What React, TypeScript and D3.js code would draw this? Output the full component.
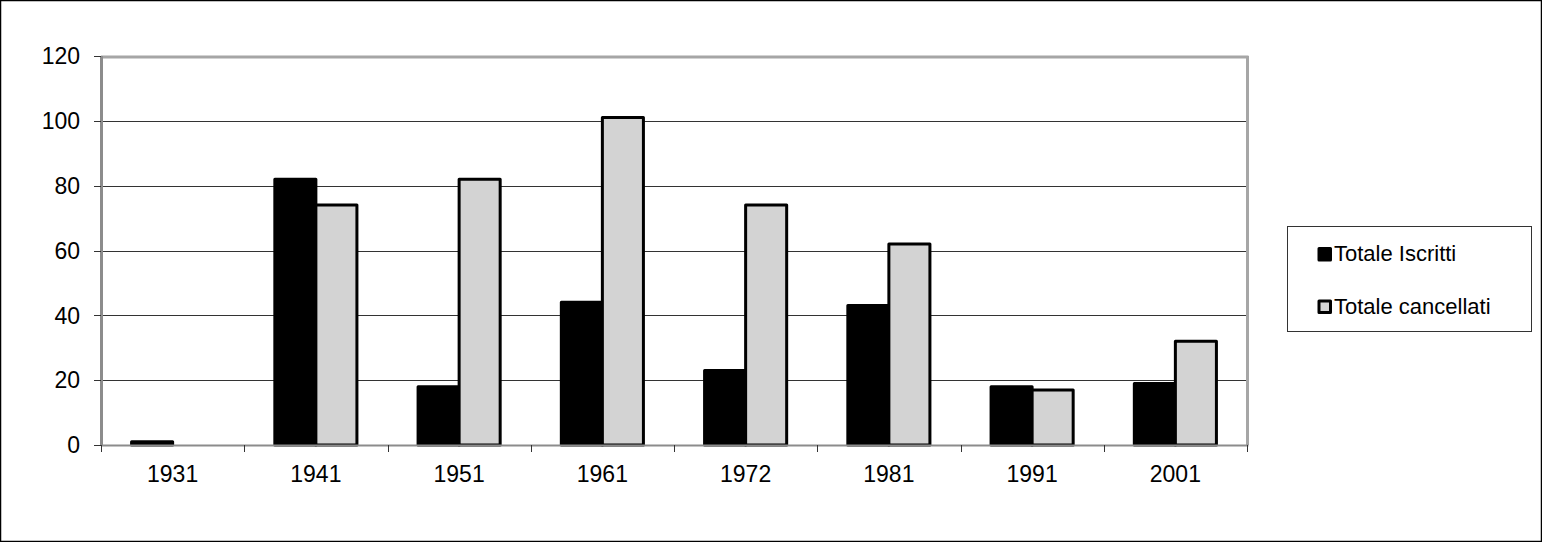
import React from "react";
import * as d3 from "d3";

const categories = ["1931", "1941", "1951", "1961", "1972", "1981", "1991", "2001"];
const seriesNames = ["Totale Iscritti", "Totale cancellati"];
const iscritti = [1, 82, 18, 44, 23, 43, 18, 19];
const cancellati = [0, 74, 82, 101, 74, 62, 17, 32];
const yTicks = [0, 20, 40, 60, 80, 100, 120];
const seriesColors = ["#000000", "#d3d3d3"];

const W = 1542;
const H = 542;
const plot = { left: 101, right: 1247, top: 56, bottom: 445 };
const FONT = "'Liberation Sans', Arial, sans-serif";

export default function App() {
  const x = d3.scaleBand<string>().domain(categories).range([plot.left, plot.right]).padding(0);
  const xs = d3
    .scaleBand<string>()
    .domain(seriesNames)
    .range([0, x.bandwidth()])
    .paddingInner(0)
    .paddingOuter(0.745);
  const y = d3.scaleLinear().domain([0, 120]).range([plot.bottom, plot.top]);
  const seriesValues = [iscritti, cancellati];

  const tickEdges = categories.map((c) => x(c) as number).concat([plot.right]);

  return (
    <svg
      width={W}
      height={H}
      style={{ position: "absolute", left: 0, top: 0, background: "#fff" }}
      fontFamily={FONT}
    >
      <rect x={0} y={0} width={W} height={H} fill="#fff" />
      <rect x={0.5} y={0.5} width={W - 1} height={H - 1} fill="none" stroke="#000" strokeWidth={1.5} />

      {/* gridlines */}
      {yTicks
        .filter((t) => t > 0 && t < 120)
        .map((t) => (
          <line
            key={"g" + t}
            x1={plot.left}
            x2={plot.right}
            y1={Math.round(y(t)) + 0.5}
            y2={Math.round(y(t)) + 0.5}
            stroke="#333"
            strokeWidth={1}
          />
        ))}

      {/* plot border top and right */}
      <line x1={plot.left} x2={plot.right + 1.5} y1={plot.top + 1} y2={plot.top + 1} stroke="#a6a6a6" strokeWidth={3} />
      <line x1={plot.right + 0.5} x2={plot.right + 0.5} y1={plot.top} y2={plot.bottom} stroke="#a6a6a6" strokeWidth={3} />

      {/* bars */}
      {seriesValues.map((vals, si) =>
        vals.map((v, i) =>
          v > 0 ? (
            <rect
              key={si + "-" + i}
              x={(x(categories[i]) as number) + (xs(seriesNames[si]) as number)}
              y={y(v)}
              width={xs.bandwidth()}
              height={y(0) - y(v)}
              fill={seriesColors[si]}
              stroke="#000"
              strokeWidth={3}
              strokeLinejoin="round"
            />
          ) : null
        )
      )}

      {/* axes */}
      <line x1={plot.left + 0.5} x2={plot.left + 0.5} y1={plot.top} y2={plot.bottom + 1} stroke="#8c8c8c" strokeWidth={3} />
      <line x1={plot.left} x2={plot.right + 1.5} y1={plot.bottom + 0.5} y2={plot.bottom + 0.5} stroke="#8c8c8c" strokeWidth={2} />

      {yTicks.map((t) => (
        <g key={"yt" + t}>
          <line x1={94} x2={plot.left} y1={Math.round(y(t)) + 0.5} y2={Math.round(y(t)) + 0.5} stroke="#333" strokeWidth={1} />
          <text x={80} y={y(t)} dy="0.36em" textAnchor="end" fontSize={23} fill="#000">
            {t}
          </text>
        </g>
      ))}

      {tickEdges.map((xv, i) => (
        <line key={"xt" + i} x1={Math.round(xv) + 0.5} x2={Math.round(xv) + 0.5} y1={plot.bottom} y2={plot.bottom + 7} stroke="#333" strokeWidth={1} />
      ))}

      {categories.map((c) => (
        <text
          key={"xl" + c}
          x={(x(c) as number) + x.bandwidth() / 2}
          y={482}
          textAnchor="middle"
          fontSize={23}
          fill="#000"
        >
          {c}
        </text>
      ))}

      {/* legend */}
      <rect x={1287.5} y={226.5} width={244} height={105} fill="#fff" stroke="#333" strokeWidth={1} />
      {seriesNames.map((s, i) => (
        <g key={"lg" + s}>
          <rect
            x={1319}
            y={248.5 + i * 52.5}
            width={11.5}
            height={11.5}
            fill={seriesColors[i]}
            stroke="#000"
            strokeWidth={3}
            strokeLinejoin="round"
          />
          <text x={1334} y={261 + i * 52.5} fontSize={22} fill="#000">
            {s}
          </text>
        </g>
      ))}
    </svg>
  );
}
